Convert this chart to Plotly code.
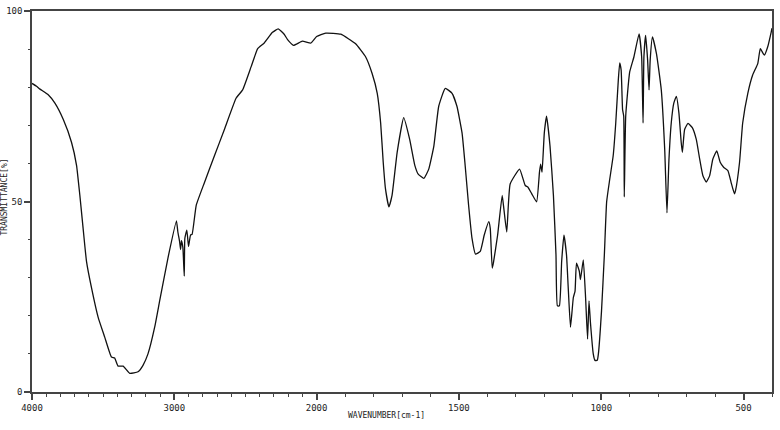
import numpy as np
import plotly.graph_objects as go

# IR spectrum: wavenumber (cm-1) vs transmittance (%)
wavenumber = [4000, 3970, 3944, 3886, 3839, 3780, 3722, 3687, 3664, 3641, 3617, 3582,
              3535, 3489, 3442, 3419, 3395, 3360, 3313, 3255, 3220, 3185, 3138, 3103,
              3045, 2985, 2975, 2963, 2956, 2950, 2940, 2930, 2926, 2912, 2900, 2886,
              2875, 2846, 2788, 2718, 2648, 2566, 2520, 2460, 2414, 2368, 2310, 2270,
              2228, 2204, 2162, 2100, 2040, 2000, 1968, 1915, 1863, 1828, 1805, 1787,
              1775, 1766, 1758, 1746, 1735, 1717, 1694, 1673, 1655, 1643, 1623, 1606,
              1588, 1571, 1548, 1524, 1507, 1489, 1478, 1466, 1454, 1442, 1425, 1411,
              1395, 1390, 1383, 1379, 1364, 1348, 1342, 1332, 1320, 1287, 1267, 1258,
              1244, 1227, 1217, 1213, 1208, 1200, 1192, 1180, 1168, 1159, 1154, 1147,
              1139, 1131, 1122, 1116, 1108, 1098, 1092, 1087, 1077, 1073, 1063, 1055,
              1048, 1043, 1038, 1028, 1022, 1014, 1010, 999, 989, 981, 970, 958,
              949, 940, 935, 930, 925, 921, 919, 914, 900, 885, 867, 858,
              853, 850, 844, 837, 832, 828, 820, 806, 789, 777, 769, 762,
              754, 745, 736, 727, 719, 715, 707, 695, 680, 666, 654, 643,
              631, 619, 608, 594, 582, 570, 555, 544, 532, 528, 514, 503,
              485, 468, 450, 441, 427, 415, 403, 400]
transmittance = [81, 80.3, 79.5, 78, 75.8, 71.5, 65.5, 59.5, 51.7, 43, 34.3, 27.4,
                 19.6, 14.4, 9.2, 8.9, 6.8, 6.8, 4.9, 5.3, 7.0, 10, 17, 23.9,
                 35.1, 44.9, 42, 39.5, 37.4, 39.7, 38, 30.4, 40.3, 42.5, 38.2, 41.2,
                 41.4, 49, 55, 62, 68.9, 77.1, 79.3, 85.4, 90.1, 91.6, 94.4, 95.3,
                 93.9, 92.5, 91, 92.1, 91.6, 93.3, 94.2, 93.9, 91.4, 88, 83.6, 78.4,
                 70.6, 60.3, 53.3, 48.6, 51.6, 62.9, 72, 66.3, 59.5, 57.2, 56.1, 58.5,
                 64.6, 75, 79.7, 78.4, 75, 68, 59.4, 49, 40.3, 36.2, 36.9, 41.2,
                 44.7, 43, 32.5, 33.8, 41.2, 51.6, 48, 42, 54.6, 58.5, 54.2, 53.8,
                 52, 49.9, 57.7, 59.8, 57.7, 68, 72.4, 64.6, 51.6, 36, 22.6, 22.6,
                 34.3, 41.2, 36, 27.4, 17, 24.8, 26.5, 33.8, 31.7, 29.5, 34.7, 24.8,
                 13.9, 23.9, 18.3, 10, 8.3, 8.3, 10, 21.3, 36, 49.9, 55.9, 62,
                 70.6, 81.9, 86.4, 84.5, 74.1, 72.4, 51.2, 72.4, 84, 88, 94, 88,
                 70.6, 88, 93.6, 87.1, 79.3, 87.1, 93.2, 88.8, 79.3, 63.7, 47, 61.1,
                 70.6, 75.8, 77.6, 73.2, 65.5, 62.9, 68.9, 70.5, 69.4, 66.3, 61.1, 56.8,
                 55.1, 56.8, 61.1, 63.3, 60.3, 59, 58.1, 55.1, 52, 52.9, 60.3, 70.6,
                 78.4, 83.2, 86.2, 90.1, 88.4, 90.6, 94.4, 95.5]

x_labels = [4000, 3000, 2000, 1500, 1000, 500]
x_major = [4000, 3500, 3000, 2500, 2000, 1500, 1000, 500]
y_labels = [0, 50, 100]


def scale(wn):
    """Spectrometer axis: 4000-2000 at half scale, below 2000 full scale."""
    wn = np.asarray(wn, dtype=float)
    return np.where(wn >= 2000, (4000 - wn) / 2.0, 1000 + (2000 - wn))


minor_wn = list(range(4000, 399, -100))

fig = go.Figure()
fig.add_trace(go.Scatter(
    x=scale(wavenumber), y=transmittance, mode="lines",
    line=dict(color="#111111", width=1.3, shape="spline", smoothing=0.4),
    hoverinfo="skip", showlegend=False))

font = dict(family="DejaVu Sans Mono", size=9, color="#222222")

fig.update_layout(
    width=780, height=430,
    margin=dict(l=32, r=6, t=7, b=38),
    paper_bgcolor="white", plot_bgcolor="white",
    font=font,
    xaxis=dict(
        range=[0, 2600], showgrid=False, zeroline=False,
        showline=True, linecolor="#444444", linewidth=1.5, mirror=True,
        ticks="outside", ticklen=6, tickcolor="#444444", tickwidth=1.5,
        tickmode="array",
        tickvals=list(scale(x_major)),
        ticktext=[str(v) if v in x_labels else "" for v in x_major],
        tickfont=font,
        minor=dict(tickmode="array", tickvals=list(scale(minor_wn)),
                   ticks="outside", ticklen=3, tickcolor="#444444", tickwidth=1.2),
    ),
    yaxis=dict(
        range=[0, 100], showgrid=False, zeroline=False,
        showline=True, linecolor="#444444", linewidth=1.5, mirror=True,
        ticks="outside", ticklen=6, tickcolor="#444444", tickwidth=1.5,
        tickmode="array", tickvals=y_labels, ticktext=[str(v) for v in y_labels],
        tickfont=font, ticklabelstandoff=0,
        minor=dict(tickmode="array", tickvals=list(range(0, 101, 10)),
                   ticks="outside", ticklen=2, tickcolor="#444444", tickwidth=1.2),
    ),
    annotations=[
        dict(text="WAVENUMBER[cm-1]", xref="x", yref="paper",
             x=1247, y=-0.062, xanchor="center", yanchor="middle",
             showarrow=False, font=dict(family="DejaVu Sans Mono", size=8, color="#222222")),
        dict(text="TRANSMITTANCE[%]", xref="paper", yref="paper",
             x=-0.037, y=0.512, xanchor="center", yanchor="middle", textangle=-90,
             showarrow=False, font=dict(family="DejaVu Sans Mono", size=8, color="#222222")),
    ],
)

fig.write_html("out.html")
